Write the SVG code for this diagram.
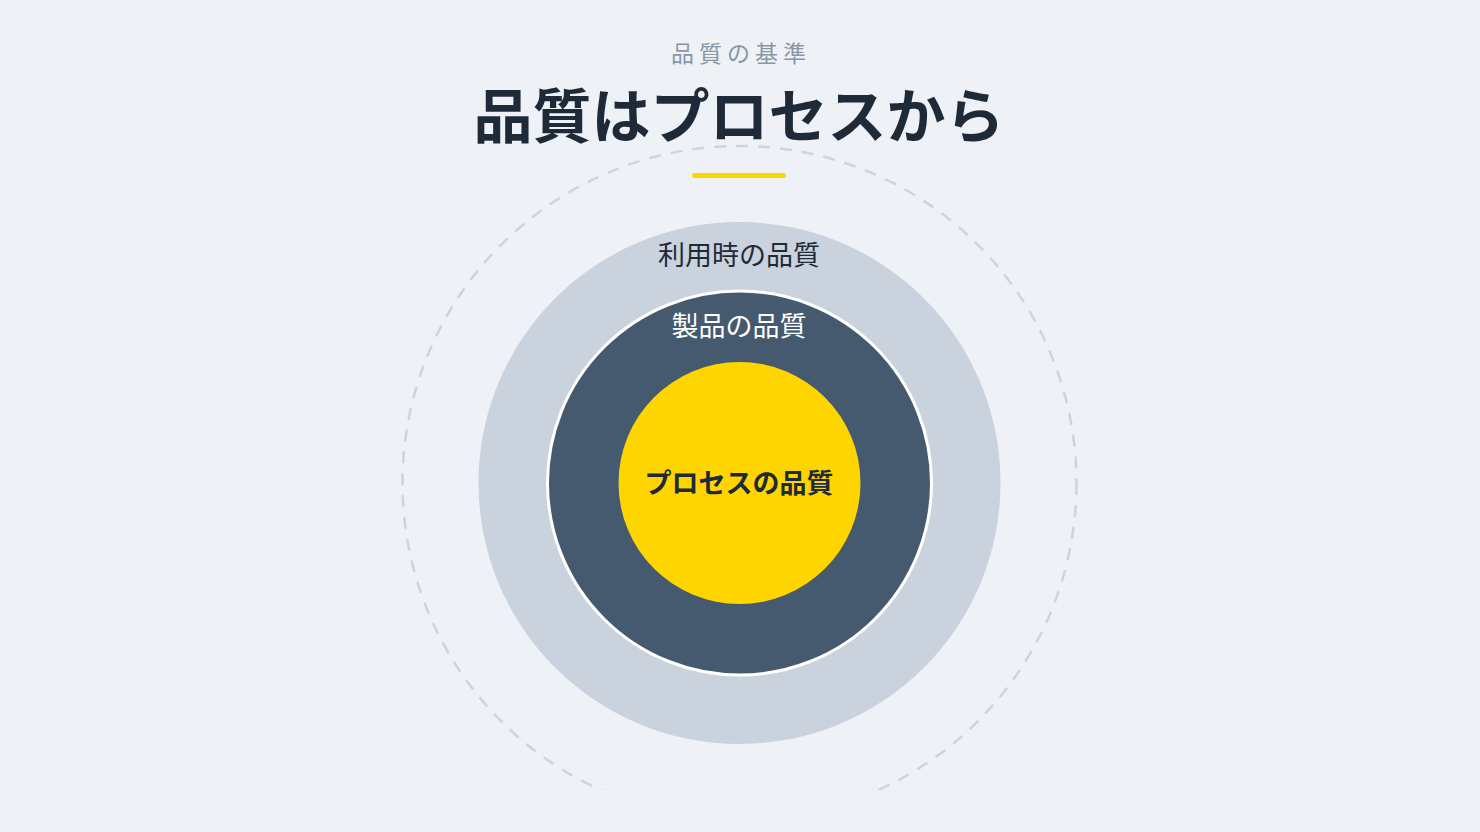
<svg xmlns="http://www.w3.org/2000/svg" width="1480" height="832" viewBox="0 0 1480 832">
  <defs>
    <style>
      .jp { font-family: "Noto Sans CJK JP", "Noto Sans", sans-serif; text-anchor: middle; }
    </style>
    <clipPath id="clipB"><rect x="0" y="0" width="1480" height="790"/></clipPath>
  </defs>
  <rect width="1480" height="832" fill="#eef2f7"/>
  <g id="header">
    <text class="jp" x="741" y="62" font-size="23" fill="#8a96a3" letter-spacing="5">品質の基準</text>
    <text class="jp" x="739" y="138" font-size="59" font-weight="700" fill="#1e2a38">品質はプロセスから</text>
    <rect x="692" y="173" width="94" height="5" rx="2.5" fill="#ffd500"/>
  </g>
  <g id="boundary">
    <circle cx="739.5" cy="483" r="337" fill="none" stroke="#d0d4d9" stroke-width="2.5" stroke-dasharray="12 10" clip-path="url(#clipB)"/>
  </g>
  <g id="node-usage">
    <circle cx="739.5" cy="483" r="261" fill="#cad2dd"/>
    <text class="jp" x="739" y="265" font-size="27" fill="#1e2a38">利用時の品質</text>
  </g>
  <g id="node-product">
    <circle cx="739.5" cy="483" r="192" fill="#455a6e" stroke="#ffffff" stroke-width="3"/>
    <text class="jp" x="739" y="336" font-size="27" fill="#ffffff">製品の品質</text>
  </g>
  <g id="node-process">
    <circle cx="739.5" cy="483" r="121" fill="#ffd500"/>
    <text class="jp" x="739" y="493" font-size="27" font-weight="700" fill="#1e2a38">プロセスの品質</text>
  </g>
  <g id="connectors"/>
</svg>
